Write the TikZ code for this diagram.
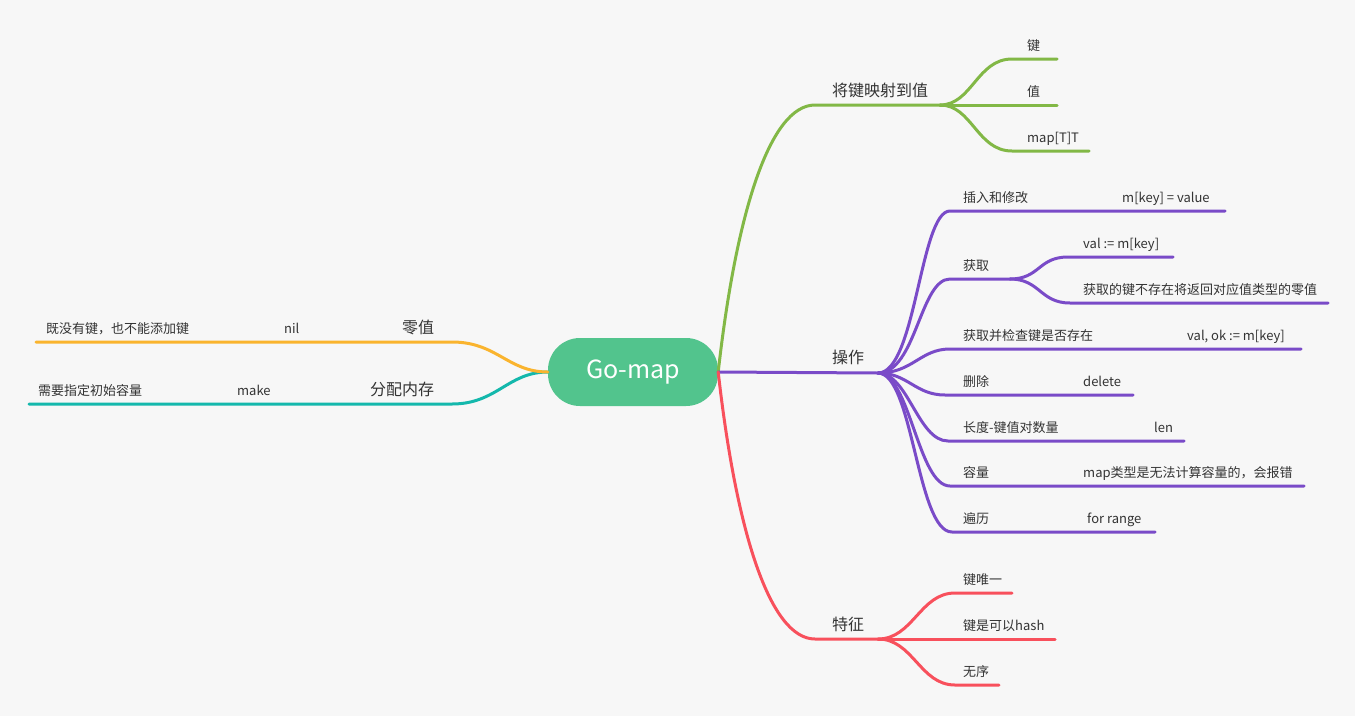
\documentclass[tikz,border=0pt]{standalone}
\usepackage{fontspec}
\setmainfont{Noto Sans CJK SC}
\usetikzlibrary{positioning}
\definecolor{bgGray}{HTML}{F7F7F7}
\definecolor{rootGreen}{HTML}{52C48D}
\definecolor{mapGreen}{HTML}{82B846}
\definecolor{opPurple}{HTML}{7A4BC8}
\definecolor{featRed}{HTML}{F8505C}
\definecolor{zeroOrange}{HTML}{FAB42E}
\definecolor{allocTeal}{HTML}{14B8AC}
\definecolor{textDark}{HTML}{333333}

\begin{document}
\begin{tikzpicture}[
  x=1pt, y=-1pt,
  branch/.style={line width=3pt, line cap=round},
  leaf/.style={font=\fontsize{13}{15}\selectfont, text=textDark, anchor=base west, inner sep=0pt},
  topic/.style={font=\fontsize{16}{18}\selectfont, text=textDark, anchor=base west, inner sep=0pt},
  rootbox/.style={fill=rootGreen, rounded corners=32pt, minimum width=170pt, minimum height=68pt,
                  text=white, font=\fontsize{25}{28}\selectfont}
]
\fill[bgGray] (0,0) rectangle (1355,716);

\node[rootbox] (root) at (633,372) {Go-map};

% left side
\coordinate (zeroK) at (452,342);  \coordinate (zeroE) at (36,342);
\coordinate (allocK) at (452,404); \coordinate (allocE) at (29,404);
\draw[branch, allocTeal] (root.west) .. controls +(-40,0) and +(45,0) .. (allocK) -- (allocE);
\draw[branch, zeroOrange] (root.west) .. controls +(-40,0) and +(45,0) .. (zeroK) -- (zeroE);
\node[topic] (zero) at (402,333) {零值};
\node[leaf] (zeroV) at (284,333) {nil};
\node[leaf] (zeroD) at (46,333) {既没有键，也不能添加键};
\node[topic] (alloc) at (370,395) {分配内存};
\node[leaf] (allocV) at (237,395) {make};
\node[leaf] (allocD) at (38,395) {需要指定初始容量};

% mapping
\coordinate (mapK) at (815,105); \coordinate (mapF) at (940,105);
\draw[branch, mapGreen] (root.east) .. controls +(18,-160) and +(-45,0) .. (mapK) -- (mapF);
\node[topic] (map) at (832,96) {将键映射到值};
\coordinate (keyK) at (1012,59);  \coordinate (keyE) at (1057,59);
\coordinate (valK) at (1000,105); \coordinate (valE) at (1057,105);
\coordinate (typK) at (1012,151); \coordinate (typE) at (1089,151);
\draw[branch, mapGreen] (mapF) .. controls +(32,0) and +(-35,0) .. (keyK) -- (keyE);
\draw[branch, mapGreen] (mapF) -- (valK) -- (valE);
\draw[branch, mapGreen] (mapF) .. controls +(32,0) and +(-35,0) .. (typK) -- (typE);
\node[leaf] (key) at (1027,50) {键};
\node[leaf] (val) at (1027,96) {值};
\node[leaf] (typ) at (1027,142) {map[T]T};

% operations
\coordinate (opF) at (878,373);
\draw[branch, opPurple] (root.east) -- (opF);
\node[topic] (op) at (832,363) {操作};
\coordinate (insK) at (950,211); \coordinate (insE) at (1225,211);
\coordinate (getK) at (950,279); \coordinate (getF) at (1010,279);
\coordinate (chkK) at (950,349); \coordinate (chkE) at (1301,349);
\coordinate (delK) at (945,395); \coordinate (delE) at (1133,395);
\coordinate (lenK) at (948,441); \coordinate (lenE) at (1184,441);
\coordinate (capK) at (950,486); \coordinate (capE) at (1304,486);
\coordinate (rngK) at (952,532); \coordinate (rngE) at (1155,532);
\draw[branch, opPurple] (opF) .. controls +(38,0) and +(-30,0) .. (insK) -- (insE);
\draw[branch, opPurple] (opF) .. controls +(38,0) and +(-30,0) .. (getK) -- (getF);
\draw[branch, opPurple] (opF) .. controls +(35,0) and +(-30,0) .. (chkK) -- (chkE);
\draw[branch, opPurple] (opF) .. controls +(30,0) and +(-30,0) .. (delK) -- (delE);
\draw[branch, opPurple] (opF) .. controls +(30,0) and +(-30,0) .. (lenK) -- (lenE);
\draw[branch, opPurple] (opF) .. controls +(32,0) and +(-32,0) .. (capK) -- (capE);
\draw[branch, opPurple] (opF) .. controls +(35,0) and +(-35,0) .. (rngK) -- (rngE);
\coordinate (getAK) at (1068,257); \coordinate (getAE) at (1173,257);
\coordinate (getBK) at (1070,303); \coordinate (getBE) at (1328,303);
\draw[branch, opPurple] (getF) .. controls +(30,0) and +(-30,0) .. (getAK) -- (getAE);
\draw[branch, opPurple] (getF) .. controls +(30,0) and +(-30,0) .. (getBK) -- (getBE);
\node[leaf] (ins) at (963,202) {插入和修改};
\node[leaf] (insV) at (1122,202) {m[key] = value};
\node[leaf] (get) at (963,270) {获取};
\node[leaf] (getA) at (1083,248) {val := m[key]};
\node[leaf] (getB) at (1083,294) {获取的键不存在将返回对应值类型的零值};
\node[leaf] (chk) at (963,340) {获取并检查键是否存在};
\node[leaf] (chkV) at (1187,340) {val, ok := m[key]};
\node[leaf] (del) at (963,386) {删除};
\node[leaf] (delV) at (1083,386) {delete};
\node[leaf] (len) at (963,432) {长度-键值对数量};
\node[leaf] (lenV) at (1154,432) {len};
\node[leaf] (cap) at (963,477) {容量};
\node[leaf] (capV) at (1083,477) {map类型是无法计算容量的，会报错};
\node[leaf] (rng) at (963,523) {遍历};
\node[leaf] (rngV) at (1087,523) {for range};

% features
\coordinate (featK) at (815,639); \coordinate (featF) at (878,639);
\draw[branch, featRed] (root.east) .. controls +(18,160) and +(-45,0) .. (featK) -- (featF);
\node[topic] (feat) at (832,630) {特征};
\coordinate (uniK) at (955,593);  \coordinate (uniE) at (1012,593);
\coordinate (hshK) at (950,639);  \coordinate (hshE) at (1055,639);
\coordinate (ordK) at (955,685);  \coordinate (ordE) at (999,685);
\draw[branch, featRed] (featF) .. controls +(35,0) and +(-35,0) .. (uniK) -- (uniE);
\draw[branch, featRed] (featF) -- (hshK) -- (hshE);
\draw[branch, featRed] (featF) .. controls +(35,0) and +(-35,0) .. (ordK) -- (ordE);
\node[leaf] (uni) at (963,584) {键唯一};
\node[leaf] (hsh) at (963,630) {键是可以hash};
\node[leaf] (ord) at (963,676) {无序};
\end{tikzpicture}
\end{document}
